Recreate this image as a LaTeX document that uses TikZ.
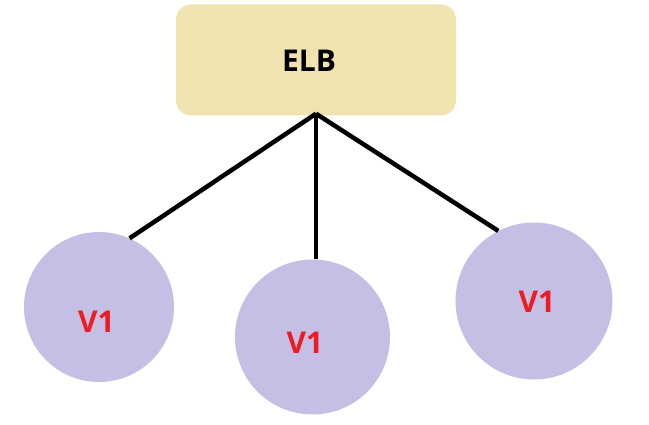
\documentclass[tikz,border=0pt]{standalone}
\usepackage{fontspec}
\setmainfont{Open Sans}
\usepackage{xcolor}
\usepackage{tikz}
\usetikzlibrary{positioning}

\definecolor{elbfill}{RGB}{239,227,176}
\definecolor{vmfill}{RGB}{197,191,229}
\definecolor{vmtext}{RGB}{237,28,36}

\begin{document}
\begin{tikzpicture}[x=1pt, y=-1pt,
    elbbox/.style={rectangle, rounded corners=15pt, fill=elbfill, minimum width=280pt, minimum height=111pt, inner sep=0pt},
    vmcircle/.style={circle, fill=vmfill, inner sep=0pt},
    vmlabel/.style={text=vmtext, font=\fontsize{30}{36}\selectfont\bfseries, inner sep=0pt},
    link/.style={line width=4.5pt, black}]
    % Page frame
    \useasboundingbox (0, 0) rectangle (649, 425);

    % Load balancer
    \node[elbbox] (elb) at (316, 60) {};
    \node[font=\fontsize{30}{36}\selectfont\bfseries, inner sep=0pt] (elbtext) at (309, 61) {ELB};
    \coordinate (hub) at ([yshift=2pt]elb.south);

    % Instances
    \node[vmcircle, minimum size=150pt] (vma) at (99, 307) {};
    \node[vmcircle, minimum size=155pt] (vmb) at (312.5, 337) {};
    \node[vmcircle, minimum size=157pt] (vmc) at (534, 301) {};

    \node[vmlabel] (vmatext) at (96.5, 322) {V1};
    \node[vmlabel] (vmbtext) at (305, 343) {V1};
    \node[vmlabel] (vmctext) at (537, 302) {V1};

    % Connections
    \draw[link] (hub) -- (vma.66);
    \draw[link] (hub) -- (hub |- vmb.north);
    \draw[link] (hub) -- (vmc.117);
\end{tikzpicture}
\end{document}
